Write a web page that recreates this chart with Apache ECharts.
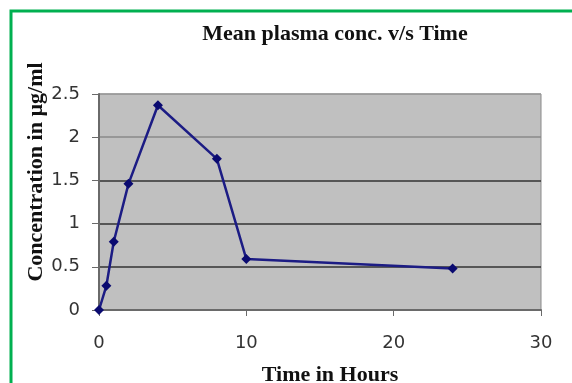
<!DOCTYPE html>
<html>
<head>
<meta charset="utf-8">
<script src="https://cdn.jsdelivr.net/npm/echarts@6/dist/echarts.min.js"></script>
<style>
  html, body { margin: 0; padding: 0; background: #fff; }
  #chart { width: 572px; height: 383px; }
</style>
</head>
<body>
<div id="chart"></div>
<script>
// time (h) and mean plasma concentration (µg/ml)
const hours = [0, 0.5, 1, 2, 4, 8, 10, 24];
const conc = [0, 0.28, 0.79, 1.46, 2.37, 1.75, 0.59, 0.48];

let myChart = echarts.init(document.getElementById("chart"));

myChart.setOption({
  animation: false,
  title: {
    text: "Mean plasma conc. v/s Time",
    left: 330,
    top: 18,
    textAlign: "center",
    textStyle: {
      fontFamily: "Liberation Serif",
      fontWeight: "bold",
      fontSize: 22,
      color: "#111",
    },
  },
  graphic: [
    {
      type: "rect",
      shape: { x: 11, y: 11, width: 620, height: 420 },
      style: { fill: "none", stroke: "#00b050", lineWidth: 3 },
      silent: true,
    },
  ],
  grid: {
    left: 99,
    right: 31,
    top: 94,
    bottom: 73,
    outerBoundsMode: "none",
    containLabel: false,
    show: true,
    backgroundColor: "#c0c0c0",
    borderColor: "#8a8a8a",
    borderWidth: 1,
  },
  xAxis: {
    type: "value",
    min: 0,
    max: 30,
    interval: 10,
    name: "Time in Hours",
    nameLocation: "middle",
    nameGap: 54,
    nameMoveOverlap: false,
    nameTextStyle: {
      fontFamily: "Liberation Serif",
      fontWeight: "bold",
      fontSize: 22,
      color: "#111",
      verticalAlign: "top",
      padding: [0, 0, 0, 20],
    },
    axisLine: { show: true, lineStyle: { color: "#6a6a6a", width: 2 } },
    axisTick: { show: true, inside: false, length: 6, lineStyle: { color: "#6a6a6a" } },
    axisLabel: {
      margin: 24,
      fontFamily: "DejaVu Sans",
      fontSize: 18,
      color: "#333",
    },
    splitLine: { show: false },
  },
  yAxis: {
    type: "value",
    min: 0,
    max: 2.5,
    interval: 0.5,
    name: "Concentration in µg/ml",
    nameLocation: "middle",
    nameRotate: 90,
    nameGap: 52,
    nameMoveOverlap: false,
    nameTextStyle: {
      fontFamily: "Liberation Serif",
      fontWeight: "bold",
      fontSize: 22,
      color: "#111",
      padding: [0, 0, 0, 60],
    },
    axisLine: { show: true, lineStyle: { color: "#6a6a6a", width: 2 } },
    axisTick: { show: true, inside: false, length: 7, lineStyle: { color: "#6a6a6a" } },
    axisLabel: {
      margin: 19,
      fontFamily: "DejaVu Sans",
      fontSize: 18,
      color: "#333",
    },
    splitLine: {
      show: true,
      lineStyle: {
        color: ["#333", "#333", "#333", "#333", "#8a8a8a", "#9a9a9a"],
        width: 1.5,
      },
    },
  },
  series: [
    {
      type: "line",
      data: hours.map((h, i) => [h, conc[i]]),
      symbol: "diamond",
      symbolSize: 10,
      lineStyle: { color: "#1c1c84", width: 2.5 },
      itemStyle: { color: "#0a0a70" },
    },
  ],
});
</script>
</body>
</html>
